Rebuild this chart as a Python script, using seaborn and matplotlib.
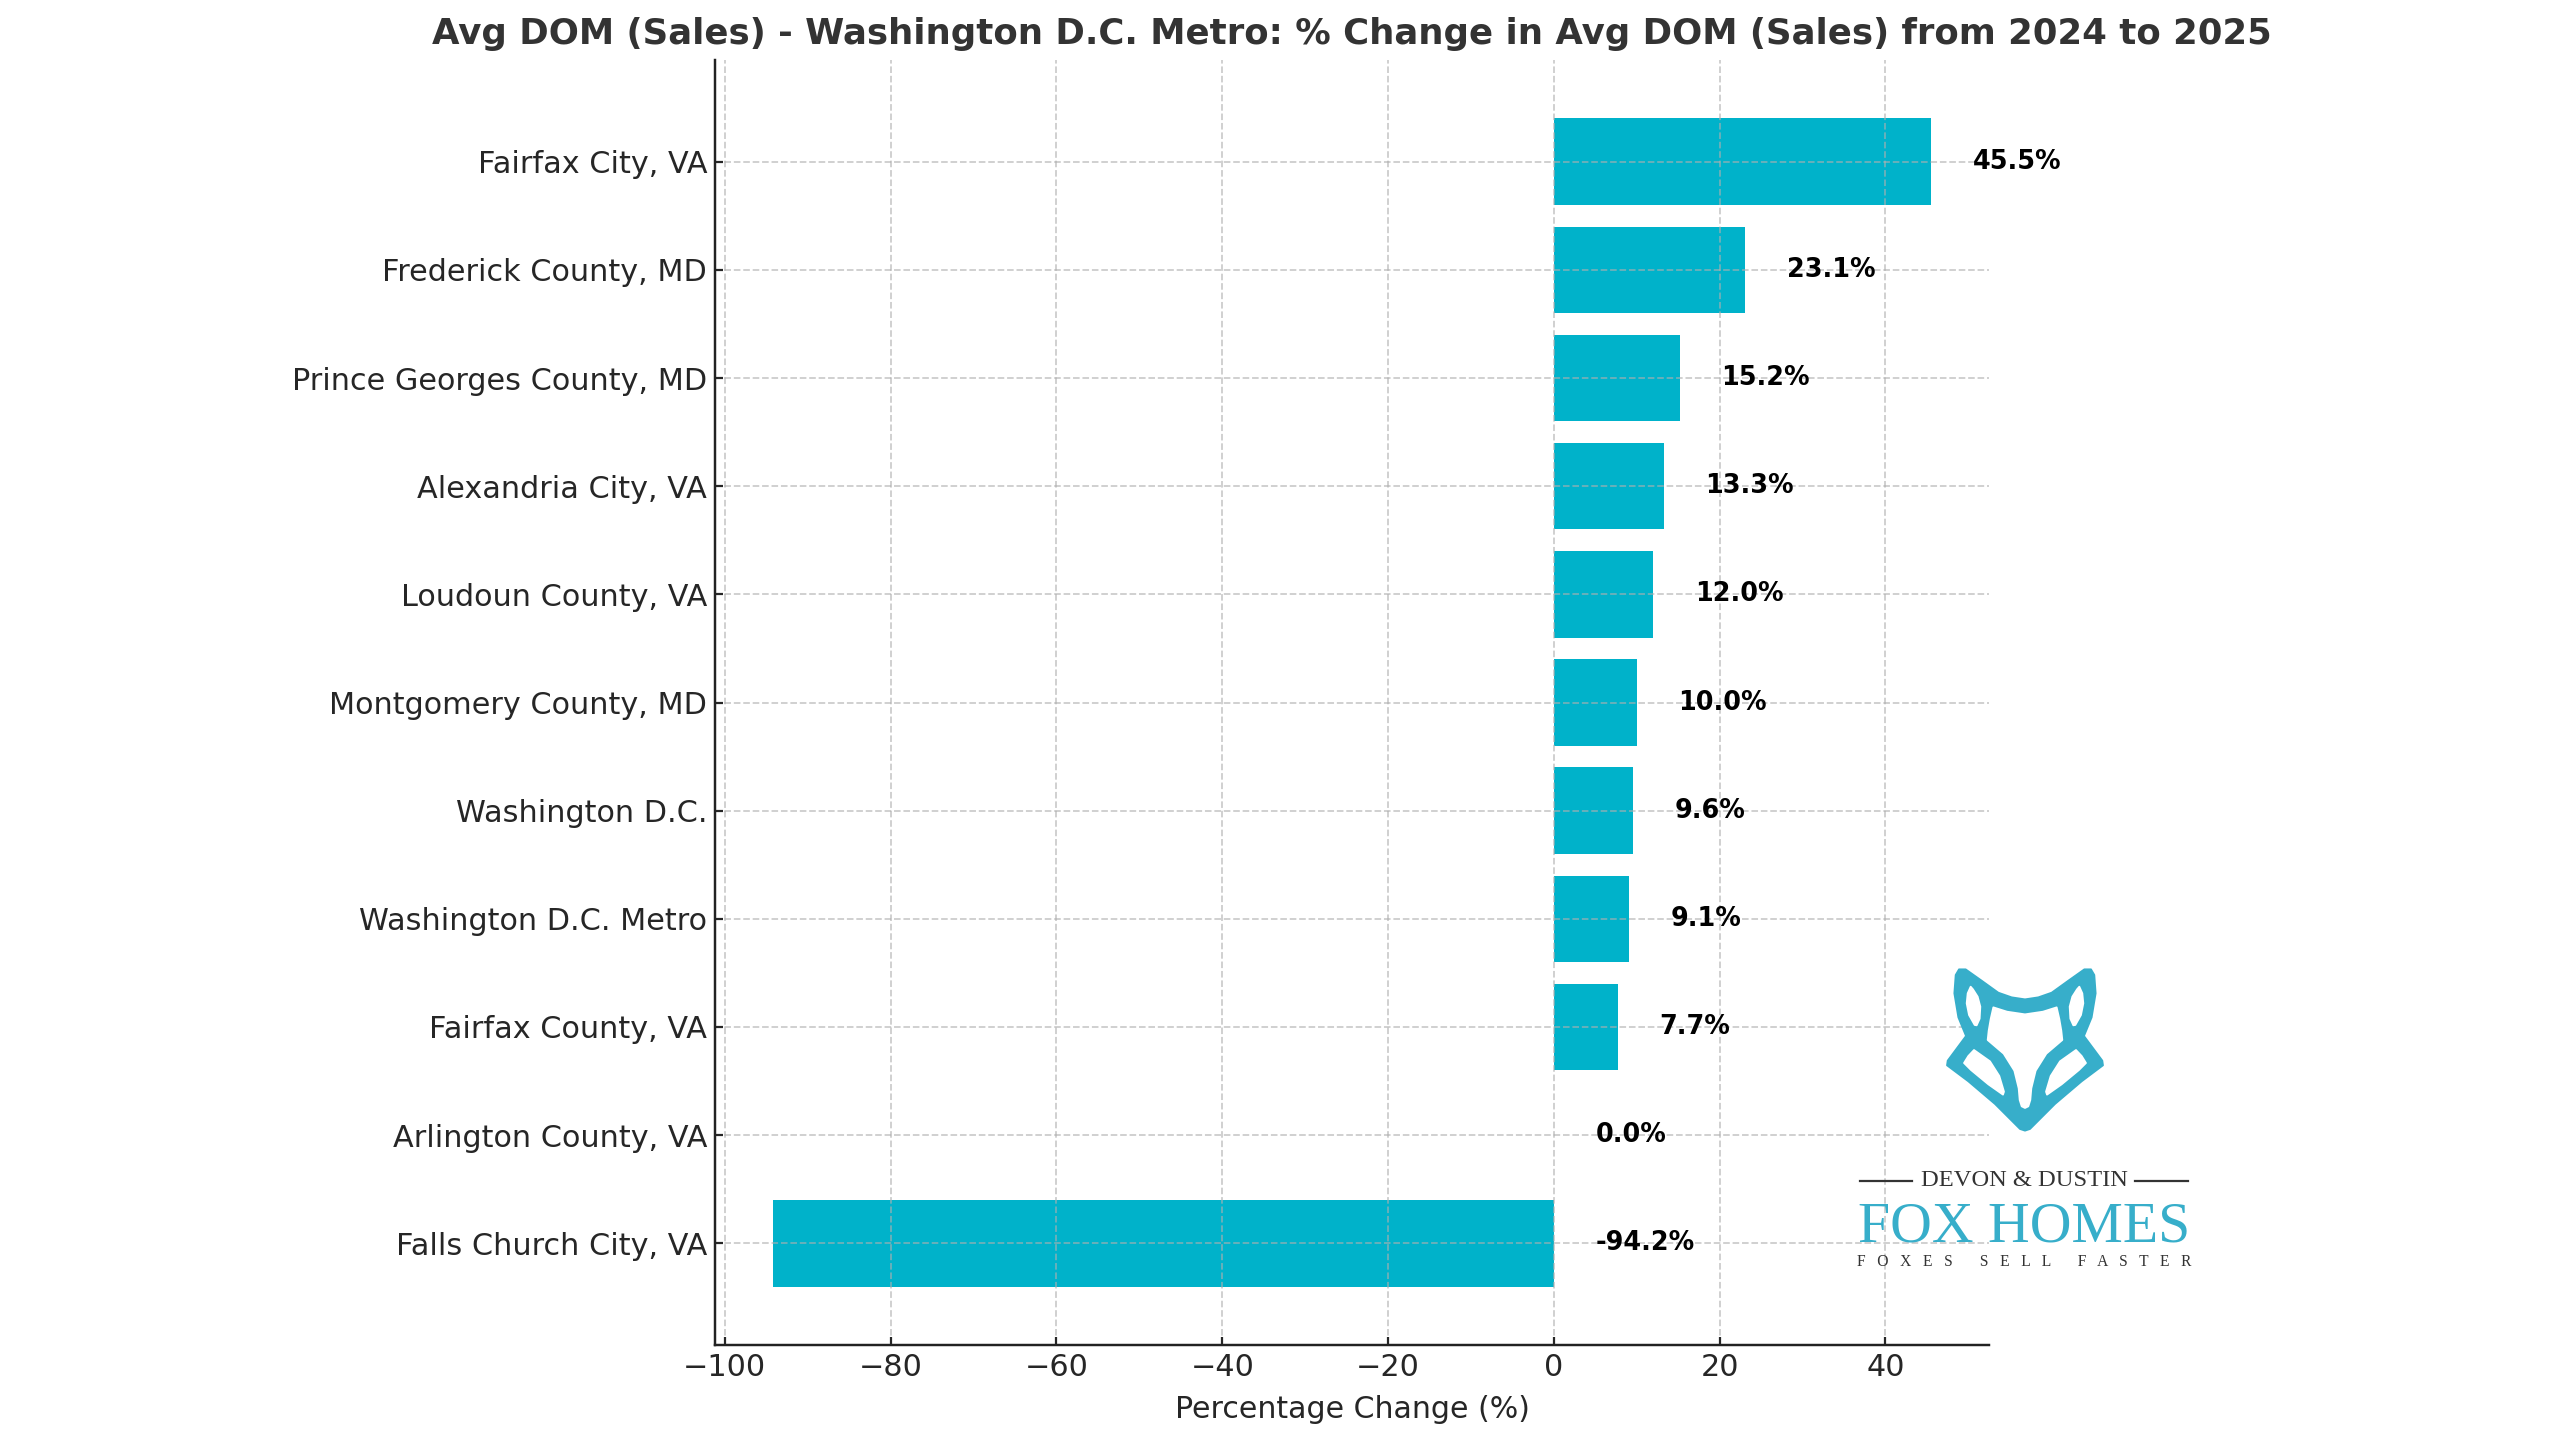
import numpy as np
import pandas as pd
import matplotlib
matplotlib.use("Agg")
import matplotlib.pyplot as plt
from matplotlib.lines import Line2D
from matplotlib.patches import Polygon
import seaborn as sns

# ---- data ----
areas = ["Fairfax City, VA", "Frederick County, MD", "Prince Georges County, MD",
         "Alexandria City, VA", "Loudoun County, VA", "Montgomery County, MD",
         "Washington D.C.", "Washington D.C. Metro", "Fairfax County, VA",
         "Arlington County, VA", "Falls Church City, VA"]
pct_change = [45.5, 23.1, 15.2, 13.3, 12.0, 10.0, 9.6, 9.1, 7.7, 0.0, -94.2]

title = "Avg DOM (Sales) - Washington D.C. Metro: % Change in Avg DOM (Sales) from 2024 to 2025"
xlabel = "Percentage Change (%)"

BAR = "#00B2CA"
TEAL = "#37AECA"
DARK = "#262626"

W, H, DPI = 2560, 1440, 160
fig = plt.figure(figsize=(W / DPI, H / DPI), dpi=DPI)
ax = fig.add_axes([715 / W, 1 - 1345 / H, (1989 - 715) / W, (1345 - 60) / H])

df = pd.DataFrame({"area": areas, "change": pct_change})
sns.barplot(data=df, x="change", y="area", orient="h", color=BAR, saturation=1,
            width=0.8, errorbar=None, ax=ax, linewidth=0)

n = len(areas)
span = n - 1 + 0.8
ax.set_ylim(n - 1 + 0.4 + 0.05 * span, -0.4 - 0.05 * span)
lo, hi = min(pct_change), max(pct_change)
ax.set_xlim(lo - 0.05 * (hi - lo), hi + 0.05 * (hi - lo))

for i, v in enumerate(pct_change):
    ax.text(max(v, 0) + 5, i, f"{v:.1f}%", va="center", ha="left",
            fontsize=11.5, fontweight="bold", color="black")

ax.set_axisbelow("line")
ax.grid(True, which="major", axis="both", linestyle="--", color="#b0b0b0",
        alpha=0.65, linewidth=0.8)
ax.set_ylabel("")
ax.set_xlabel(xlabel, fontsize=13.5, color=DARK, labelpad=6)
ax.tick_params(axis="both", direction="in", labelsize=13.6, colors=DARK,
               width=1.0, length=3.5)
for s in ["top", "right"]:
    ax.spines[s].set_visible(False)
for s in ["left", "bottom"]:
    ax.spines[s].set_color("#222222")
    ax.spines[s].set_linewidth(1.1)
ax.set_title(title, fontsize=16, fontweight="bold", color="#333333", pad=7)

# ---- logo (decoration) ----
def P(zx, zy):
    return ((1935 + zx / 3) / W, 1 - (960 + zy / 3) / H)

def shape(pts, color):
    fig.add_artist(Polygon([P(x, y) for x, y in pts], closed=True,
                           transform=fig.transFigure, facecolor=color,
                           edgecolor=color, lw=0.8, joinstyle="round"))

def mirror(pts):
    return [(540 - x, y) for x, y in reversed(pts)]

sil_left = [(270, 512), (255, 507), (240, 492), (180, 432), (100, 364), (36, 316),
            (38, 302), (93, 228), (70, 172), (58, 100), (62, 45), (72, 28),
            (92, 28), (140, 62), (190, 98), (230, 112), (270, 118)]
silhouette = sil_left[:-1] + mirror(sil_left)[:-1]
shape(silhouette, TEAL)

ear_left = [(107, 80), (98, 100), (95, 130), (102, 165), (119, 195), (125, 196),
            (134, 176), (136, 140), (128, 110), (114, 88)]
shape(ear_left, "white")
shape(mirror(ear_left), "white")

face_left = [(270, 444), (260, 439), (254, 420), (251, 385), (238, 332), (206, 281),
             (158, 240), (161, 212), (167, 177), (175, 142), (216, 155), (270, 163)]
face = face_left[:-1] + mirror(face_left)[:-1]
shape(face, "white")

cheek_left = [(117, 270), (165, 304), (193, 348), (207, 395), (204, 404),
              (160, 373), (108, 330), (87, 309), (100, 288)]
shape(cheek_left, "white")
shape(mirror(cheek_left), "white")

fig.text(2024 / W, 1 - 1181 / H, "DEVON & DUSTIN", ha="center", va="center",
         family="Liberation Serif", fontsize=11, color="#333333")
for x0, x1 in [(1860, 1912), (2135, 2188)]:
    fig.add_artist(Line2D([x0 / W, x1 / W], [1 - 1181 / H] * 2,
                          transform=fig.transFigure, color="#333333", lw=1.0))
fig.text(2024 / W, 1 - 1221 / H, "FOX HOMES", ha="center", va="center_baseline",
         family="Liberation Serif", fontsize=26, color=TEAL)
tag = "       ".join("   ".join(w) for w in ["FOXES", "SELL", "FASTER"])
fig.text(2024 / W, 1 - 1262 / H, tag, ha="center", va="center",
         family="Liberation Serif", fontsize=7, color="#333333")

fig.savefig("out.png", dpi=DPI)
